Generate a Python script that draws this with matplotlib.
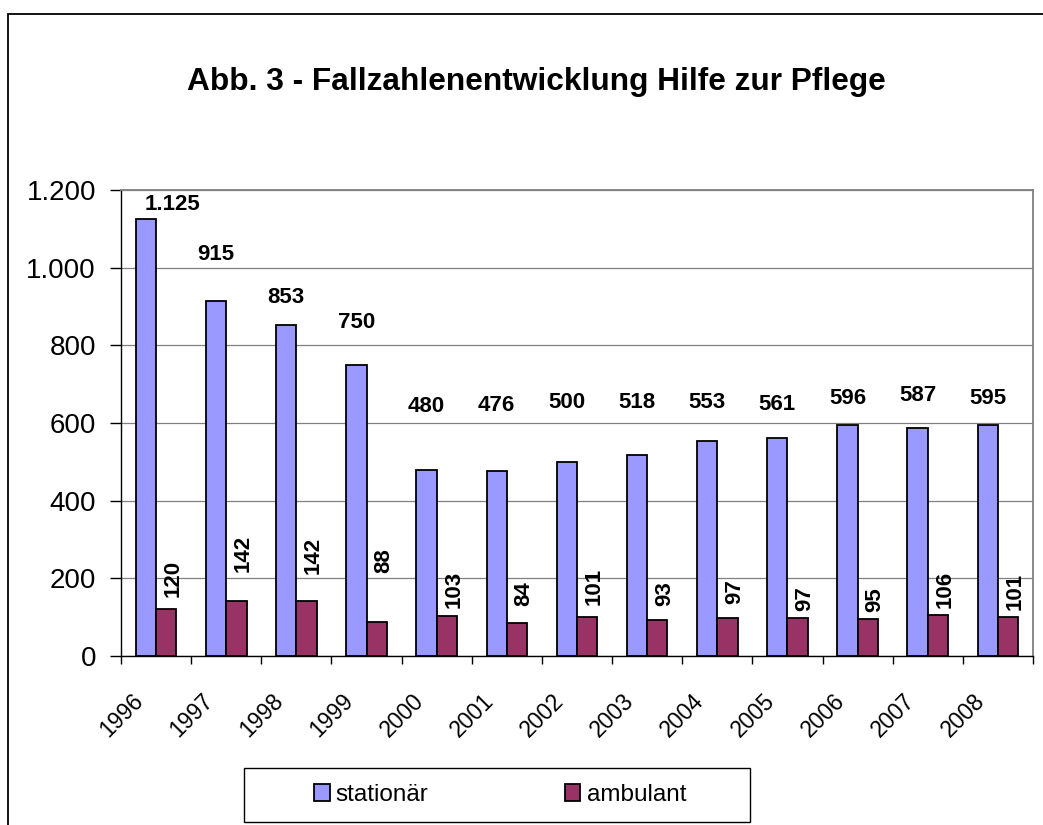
import numpy as np
import matplotlib
matplotlib.use("Agg")
import matplotlib.pyplot as plt
from matplotlib.patches import Rectangle, Patch

years = ["1996", "1997", "1998", "1999", "2000", "2001", "2002",
         "2003", "2004", "2005", "2006", "2007", "2008"]
stationaer = [1125, 915, 853, 750, 480, 476, 500, 518, 553, 561, 596, 587, 595]
ambulant = [120, 142, 142, 88, 103, 84, 101, 93, 97, 97, 95, 106, 101]

title = "Abb. 3 - Fallzahlenentwicklung Hilfe zur Pflege"
series_names = ["stationär", "ambulant"]

# labels were placed by hand in the original, so keep their offsets (data units)
stat_label_off = [38, 118, 69, 110, 163, 168, 152, 134, 99, 87, 68, 85, 69]
stat_label_dx = [19, 0, 0, 0, 0, 0, 0, 0, 0, 0, 0, 0, 0]
amb_label_off = [79, 123, 117, 157, 69, 76, 77, 67, 68, 52, 49, 66, 66]

C_STAT = "#9999FF"
C_AMB = "#993366"
GRID = "#808080"

plt.rcParams["font.family"] = ["Liberation Sans", "DejaVu Sans"]

W, H = 1043, 825
fig = plt.figure(figsize=(W / 100, H / 100), dpi=100)

# outer chart border (right and bottom edges lie outside the picture)
fig.patches.append(Rectangle((8 / W, -0.1), 1.2, 1.1 - 14 / H, transform=fig.transFigure,
                             fill=False, edgecolor="#000000", linewidth=1.3))

ax = fig.add_axes([121 / W, 1 - 656 / H, (1033 - 121) / W, (656 - 190) / H])

x = np.arange(len(years))
bw = 0.29
ax.bar(x - bw / 2, stationaer, bw, color=C_STAT, edgecolor="black", linewidth=1.3, zorder=3)
ax.bar(x + bw / 2, ambulant, bw, color=C_AMB, edgecolor="black", linewidth=1.3, zorder=3)

for i in range(len(years)):
    s = f"{stationaer[i]:,}".replace(",", ".")
    ax.annotate(s, (x[i] - bw / 2, stationaer[i] + stat_label_off[i]),
                xytext=(stat_label_dx[i], 0), textcoords="offset points",
                ha="center", va="center", fontsize=16, fontweight="bold", zorder=4)
    ax.annotate(str(ambulant[i]), (x[i] + bw / 2, ambulant[i] + amb_label_off[i]),
                xytext=(5, 0), textcoords="offset points", rotation=90,
                ha="center", va="center", fontsize=16, fontweight="bold", zorder=4)

ax.set_xlim(-0.5, len(years) - 0.5)
ax.set_ylim(0, 1200)
ax.set_yticks(np.arange(0, 1201, 200))
ax.set_yticklabels([f"{v:,}".replace(",", ".") for v in range(0, 1201, 200)], fontsize=20)
ax.yaxis.grid(True, color=GRID, linewidth=0.9, zorder=0)
ax.tick_params(axis="y", length=8, width=1, pad=10, direction="out")

ax.set_xticks(np.arange(-0.5, len(years)), minor=False)
ax.set_xticklabels([])
ax.tick_params(axis="x", length=6, width=1, direction="out")

for i, yr in enumerate(years):
    ax.annotate(yr, (x[i], 0), xycoords=("data", "axes fraction"),
                xytext=(-12, -30), textcoords="offset points",
                rotation=45, rotation_mode="anchor", ha="right", va="center",
                fontsize=16.5)

for side in ["left", "bottom"]:
    ax.spines[side].set_color("#000000")
    ax.spines[side].set_linewidth(1)
for side in ["top", "right"]:
    ax.spines[side].set_color(GRID)
    ax.spines[side].set_linewidth(1.3)

# legend box at the bottom
fig.patches.append(Rectangle((244 / W, 1 - 822 / H), 506 / W, 54 / H, transform=fig.transFigure,
                             fill=False, edgecolor="#000000", linewidth=1))
handles = [Patch(facecolor=C_STAT, edgecolor="black", linewidth=1.3),
           Patch(facecolor=C_AMB, edgecolor="black", linewidth=1.3)]
fig.legend(handles, series_names, loc="center", bbox_to_anchor=(500 / W, 1 - 795 / H),
           ncol=2, frameon=False, fontsize=17.5, handlelength=0.65, handleheight=0.65,
           handletextpad=0.25, columnspacing=5.6, borderpad=0)

fig.text(536 / W, 1 - 82 / H, title, ha="center", va="center", fontsize=22.8, fontweight="bold")

fig.savefig("out.png", dpi=100)
